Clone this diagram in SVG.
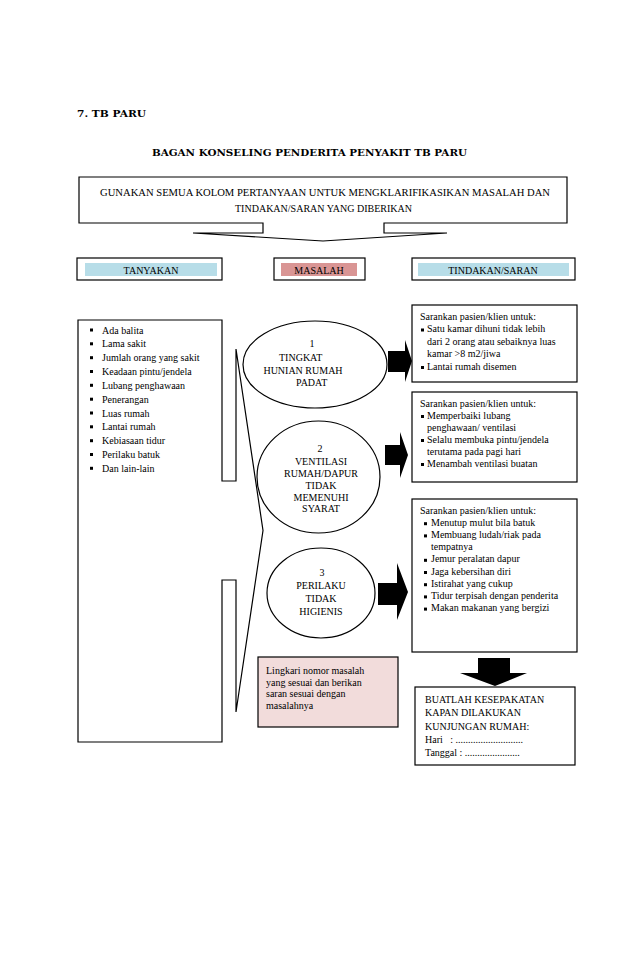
<svg xmlns="http://www.w3.org/2000/svg" width="638" height="976" viewBox="0 0 638 976">
<style>
.t{font-family:"Liberation Serif","Times New Roman",serif;font-size:10px;fill:#000}
.h{font-family:"DejaVu Serif","Liberation Serif",serif;font-weight:bold;font-size:10px;fill:#000}
.b{fill:none;stroke:#000;stroke-width:1.2}
.w{fill:#fff;stroke:#000;stroke-width:1.2}
.blk{fill:#000}
</style>
<rect width="638" height="976" fill="#fff"/>
<text class="h" x="77" y="117" textLength="69" lengthAdjust="spacingAndGlyphs">7. TB PARU</text>
<text class="h" x="152" y="156" textLength="315" lengthAdjust="spacingAndGlyphs">BAGAN KONSELING PENDERITA PENYAKIT TB PARU</text>

<g id="top">
<path class="w" d="M79,177 H567 V223 H384 V233 H447 L323,241 L193,233 H263 V223 H79 Z"/>
<text class="t" x="325" y="196" text-anchor="middle" textLength="450" lengthAdjust="spacingAndGlyphs">GUNAKAN SEMUA KOLOM PERTANYAAN UNTUK MENGKLARIFIKASIKAN MASALAH DAN</text>
<text class="t" x="323.5" y="212" text-anchor="middle" textLength="177" lengthAdjust="spacingAndGlyphs">TINDAKAN/SARAN YANG DIBERIKAN</text>
</g>

<g id="hdr-tanyakan">
<rect class="w" x="77" y="258" width="145" height="22"/>
<rect x="85" y="263" width="132" height="13" fill="#b7dde8"/>
<text class="t" x="151" y="273.5" text-anchor="middle" font-size="9.5">TANYAKAN</text>
</g>
<g id="hdr-masalah">
<rect class="w" x="274" y="258" width="91" height="22"/>
<rect x="281" y="263" width="76" height="13" fill="#d99594"/>
<text class="t" x="319" y="273.5" text-anchor="middle" font-size="9.5">MASALAH</text>
</g>
<g id="hdr-tindakan">
<rect class="w" x="412" y="258" width="163" height="22"/>
<rect x="418" y="263" width="151" height="13" fill="#b7dde8"/>
<text class="t" x="493" y="273.5" text-anchor="middle" font-size="9.5">TINDAKAN/SARAN</text>
</g>

<g id="tanyakan">
<path class="w" d="M78,320 H222 V481 H236 V349 L263,530.5 L236,712 V580 H222 V742 H78 Z"/>
<g class="blk">
<rect x="90" y="328.5" width="3" height="3"/>
<rect x="90" y="342.3" width="3" height="3"/>
<rect x="90" y="356.2" width="3" height="3"/>
<rect x="90" y="370" width="3" height="3"/>
<rect x="90" y="383.8" width="3" height="3"/>
<rect x="90" y="397.7" width="3" height="3"/>
<rect x="90" y="411.5" width="3" height="3"/>
<rect x="90" y="425.3" width="3" height="3"/>
<rect x="90" y="439.2" width="3" height="3"/>
<rect x="90" y="453" width="3" height="3"/>
<rect x="90" y="466.8" width="3" height="3"/>
</g>
<text class="t" x="102" y="333.5">Ada balita</text>
<text class="t" x="102" y="347.3">Lama sakit</text>
<text class="t" x="102" y="361.2">Jumlah orang yang sakit</text>
<text class="t" x="102" y="375">Keadaan pintu/jendela</text>
<text class="t" x="102" y="388.8">Lubang penghawaan</text>
<text class="t" x="102" y="402.7">Penerangan</text>
<text class="t" x="102" y="416.5">Luas rumah</text>
<text class="t" x="102" y="430.3">Lantai rumah</text>
<text class="t" x="102" y="444.2">Kebiasaan tidur</text>
<text class="t" x="102" y="458">Perilaku batuk</text>
<text class="t" x="102" y="471.8">Dan lain-lain</text>
</g>

<g id="masalah1">
<ellipse class="w" cx="315" cy="364.5" rx="72" ry="43.5" stroke-width="1"/>
<text class="t" x="312" y="347" text-anchor="middle">1</text>
<text class="t" x="279" y="361">TINGKAT</text>
<text class="t" x="303" y="374" text-anchor="middle">HUNIAN RUMAH</text>
<text class="t" x="296" y="386">PADAT</text>
</g>
<g id="masalah2">
<ellipse class="w" cx="318.5" cy="477" rx="61.5" ry="56" stroke-width="1"/>
<text class="t" x="320" y="452" text-anchor="middle">2</text>
<text class="t" x="321" y="464.5" text-anchor="middle">VENTILASI</text>
<text class="t" x="321" y="476.5" text-anchor="middle">RUMAH/DAPUR</text>
<text class="t" x="321" y="488.5" text-anchor="middle">TIDAK</text>
<text class="t" x="321" y="500.5" text-anchor="middle">MEMENUHI</text>
<text class="t" x="321" y="512" text-anchor="middle">SYARAT</text>
</g>
<g id="masalah3">
<ellipse class="w" cx="321" cy="593" rx="54" ry="45" stroke-width="1"/>
<text class="t" x="322" y="575.5" text-anchor="middle">3</text>
<text class="t" x="321" y="588.5" text-anchor="middle">PERILAKU</text>
<text class="t" x="321" y="601.5" text-anchor="middle">TIDAK</text>
<text class="t" x="321" y="615" text-anchor="middle">HIGIENIS</text>
</g>

<g id="connectors">
<polygon class="blk" points="388,351 405,351 405,340 412,361 405,382 405,372 388,372"/>
<polygon class="blk" points="385,445 400,445 400,432 408,455 400,478 400,465 385,465"/>
<polygon class="blk" points="378,583 397,583 397,563 408,592 397,620 397,605 378,605"/>
<polygon class="blk" points="478,658 510,658 510,673 527,673 495,686 460,673 478,673"/>
</g>

<g id="saran1">
<rect class="w" x="412" y="305" width="165" height="77"/>
<text class="t" x="420" y="319.5">Sarankan pasien/klien untuk:</text>
<rect class="blk" x="421" y="328.5" width="3" height="3"/>
<text class="t" x="427" y="332">Satu kamar dihuni tidak lebih</text>
<text class="t" x="427" y="344.5">dari 2 orang atau sebaiknya luas</text>
<text class="t" x="427" y="357">kamar &gt;8 m2/jiwa</text>
<rect class="blk" x="421" y="366" width="3" height="3"/>
<text class="t" x="427" y="369.5">Lantai rumah disemen</text>
</g>
<g id="saran2">
<rect class="w" x="412" y="392" width="165" height="90"/>
<text class="t" x="420" y="406.5">Sarankan pasien/klien untuk:</text>
<rect class="blk" x="421" y="415" width="3" height="3"/>
<text class="t" x="427" y="418.5">Memperbaiki lubang</text>
<text class="t" x="427" y="430.5">penghawaan/ ventilasi</text>
<rect class="blk" x="421" y="439" width="3" height="3"/>
<text class="t" x="427" y="442.5">Selalu membuka pintu/jendela</text>
<text class="t" x="427" y="454.5">terutama pada pagi hari</text>
<rect class="blk" x="421" y="463" width="3" height="3"/>
<text class="t" x="427" y="466.5">Menambah ventilasi buatan</text>
</g>
<g id="saran3">
<rect class="w" x="412" y="499" width="165" height="153"/>
<text class="t" x="420" y="513.5">Sarankan pasien/klien untuk:</text>
<g class="blk">
<rect x="424" y="522.2" width="3" height="3"/>
<rect x="424" y="534.4" width="3" height="3"/>
<rect x="424" y="558.8" width="3" height="3"/>
<rect x="424" y="571" width="3" height="3"/>
<rect x="424" y="583.2" width="3" height="3"/>
<rect x="424" y="595.4" width="3" height="3"/>
<rect x="424" y="607.6" width="3" height="3"/>
</g>
<text class="t" x="431" y="525.7">Menutup mulut bila batuk</text>
<text class="t" x="431" y="537.9">Membuang ludah/riak pada</text>
<text class="t" x="431" y="550.1">tempatnya</text>
<text class="t" x="431" y="562.3">Jemur peralatan dapur</text>
<text class="t" x="431" y="574.5">Jaga kebersihan diri</text>
<text class="t" x="431" y="586.7">Istirahat yang cukup</text>
<text class="t" x="431" y="598.9">Tidur terpisah dengan penderita</text>
<text class="t" x="431" y="611.1">Makan makanan yang bergizi</text>
</g>

<g id="catatan">
<rect x="258" y="657" width="140" height="70" fill="#f2dcdb" stroke="#000" stroke-width="1.2"/>
<text class="t" x="266" y="673.5">Lingkari nomor masalah</text>
<text class="t" x="266" y="685.5">yang sesuai dan berikan</text>
<text class="t" x="266" y="697">saran sesuai dengan</text>
<text class="t" x="266" y="709">masalahnya</text>
</g>

<g id="kesepakatan">
<rect class="w" x="415" y="687" width="160" height="78"/>
<text class="t" x="425" y="703">BUATLAH KESEPAKATAN</text>
<text class="t" x="425" y="716">KAPAN DILAKUKAN</text>
<text class="t" x="425" y="729.5">KUNJUNGAN RUMAH:</text>
<text class="t" x="425" y="742.5" xml:space="preserve">Hari   : ...........................</text>
<text class="t" x="425" y="755.5">Tanggal : ......................</text>
</g>
</svg>
